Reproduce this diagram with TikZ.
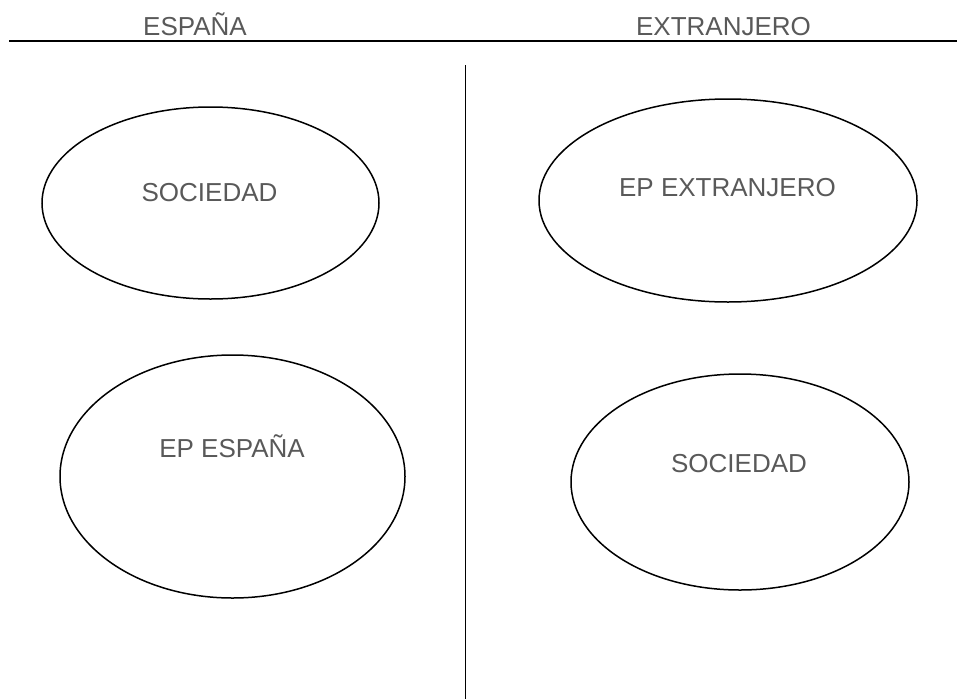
\documentclass[tikz,border=0pt]{standalone}
\usepackage{fontspec}
\setmainfont{Liberation Sans}
\usetikzlibrary{shapes.geometric}
\definecolor{txtgray}{HTML}{595959}
\begin{document}
\begin{tikzpicture}[x=1pt,y=-1pt,
  oval/.style={ellipse, draw=black, line width=1.5pt, inner sep=0pt},
  lbl/.style={anchor=base, text=txtgray, inner sep=0pt, font=\fontsize{26}{30}\selectfont}]
\useasboundingbox (0,0) rectangle (957,699);
% header line and divider
\coordinate (hl) at (9,41);
\coordinate (hr) at (957,41);
\coordinate (vt) at (465.7,65);
\coordinate (vb) at (465.7,699);
\draw[line width=2pt] (hl) -- (hr);
\draw[line width=1.5pt] (vt) -- (vb);
% titles
\node[lbl] (tesp) at (195,35) {ESPAÑA};
\node[lbl] (text) at (723.5,35) {EXTRANJERO};
% ellipses
\node[oval, minimum width=337pt, minimum height=192pt] (e1) at (210.5,203) {};
\node[oval, minimum width=378pt, minimum height=203pt] (e3) at (728,200.5) {};
\node[oval, minimum width=345pt, minimum height=243pt] (e2) at (232.5,476.5) {};
\node[oval, minimum width=338pt, minimum height=216pt] (e4) at (740,482) {};
% labels
\node[lbl] (l1) at (209.5,201) {SOCIEDAD};
\node[lbl] (l3) at (727.5,196) {EP EXTRANJERO};
\node[lbl] (l2) at (232,457) {EP ESPAÑA};
\node[lbl] (l4) at (739,472) {SOCIEDAD};
\end{tikzpicture}
\end{document}
